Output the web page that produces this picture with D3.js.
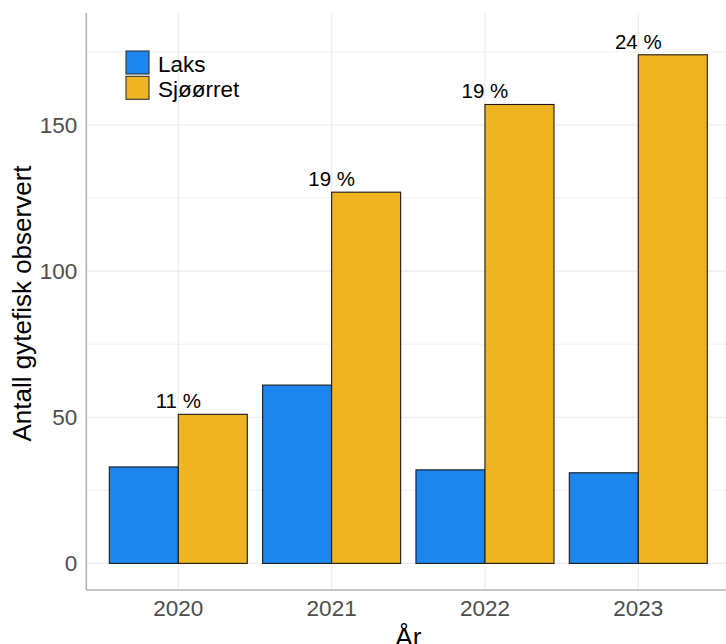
<!DOCTYPE html>
<html>
<head>
<meta charset="utf-8">
<script src="https://cdn.jsdelivr.net/npm/d3@7"></script>
<style>
  html, body { margin: 0; padding: 0; background: #fff; }
  svg { display: block; font-family: "Liberation Sans", Arial, sans-serif; }
</style>
</head>
<body>
<svg id="chart" width="726" height="644"></svg>
<script>
// Observed spawning fish per year
const years = ["2020", "2021", "2022", "2023"];
const laks = [33, 61, 32, 31];
const sjoorret = [51, 127, 157, 174];
const shareLabels = ["11 %", "19 %", "19 %", "24 %"];
const yTicks = [0, 50, 100, 150];
const yMinorTicks = [25, 75, 125, 175];
const seriesNames = ["Laks", "Sjøørret"];
const seriesColors = ["#1C86EE", "#EEB422"];

const svg = d3.select("#chart");
const W = 726, H = 644;
const panel = { left: 86.3, right: 730.3, top: 13, bottom: 590 };

const x = d3.scaleBand()
  .domain(years)
  .range([panel.left, panel.right])
  .paddingInner(0)
  .paddingOuter(0.1);

const y = d3.scaleLinear()
  .domain([-9.1, 188.3])
  .range([panel.bottom, panel.top]);

const barW = x.step() * 0.45;
const cx = d => x(d) + x.bandwidth() / 2;

const g = svg.append("g");

// grid lines
g.selectAll("line.minor").data(yMinorTicks).join("line")
  .attr("x1", panel.left).attr("x2", W)
  .attr("y1", d => y(d)).attr("y2", d => y(d))
  .attr("stroke", "#F0F0F0").attr("stroke-width", 1);
g.selectAll("line.major").data(yTicks).join("line")
  .attr("x1", panel.left).attr("x2", W)
  .attr("y1", d => y(d)).attr("y2", d => y(d))
  .attr("stroke", "#EBEBEB").attr("stroke-width", 1.1);
g.selectAll("line.vgrid").data(years).join("line")
  .attr("x1", d => cx(d)).attr("x2", d => cx(d))
  .attr("y1", panel.top).attr("y2", panel.bottom)
  .attr("stroke", "#EBEBEB").attr("stroke-width", 1.1);

// bars
const rows = years.map((yr, i) => ({ yr, vals: [laks[i], sjoorret[i]] }));
rows.forEach(r => {
  r.vals.forEach((v, j) => {
    g.append("rect")
      .attr("x", cx(r.yr) - barW + j * barW)
      .attr("y", y(v))
      .attr("width", barW)
      .attr("height", y(0) - y(v))
      .attr("fill", seriesColors[j])
      .attr("stroke", "#1a1a1a")
      .attr("stroke-width", 1.1);
  });
});

// share labels above the sea trout bars
g.selectAll("text.share").data(years).join("text")
  .attr("x", d => cx(d))
  .attr("y", (d, i) => y(sjoorret[i]) - 6)
  .attr("text-anchor", "middle")
  .attr("font-size", "20.5px")
  .attr("fill", "#000")
  .text((d, i) => shareLabels[i]);

// axes
const yAxis = d3.axisLeft(y).tickValues(yTicks).tickSize(0).tickPadding(9);
const yg = svg.append("g").attr("transform", `translate(${panel.left},0)`).call(yAxis);
yg.select(".domain").remove();
yg.selectAll("text").attr("font-size", "22.5px").attr("fill", "#4D4D4D")
  .attr("font-family", "Liberation Sans, Arial, sans-serif");

const xAxis = d3.axisBottom(x).tickSize(0).tickPadding(10);
const xg = svg.append("g").attr("transform", `translate(0,${panel.bottom})`).call(xAxis);
xg.select(".domain").remove();
xg.selectAll("text").attr("font-size", "22.5px").attr("fill", "#4D4D4D")
  .attr("font-family", "Liberation Sans, Arial, sans-serif");

svg.append("line")
  .attr("x1", panel.left).attr("x2", panel.left)
  .attr("y1", panel.top).attr("y2", panel.bottom)
  .attr("stroke", "#B3B3B3").attr("stroke-width", 1.6);
svg.append("line")
  .attr("x1", panel.left).attr("x2", W)
  .attr("y1", panel.bottom).attr("y2", panel.bottom)
  .attr("stroke", "#B3B3B3").attr("stroke-width", 1.6);

// axis titles
svg.append("text")
  .attr("transform", `translate(31,${(panel.top + panel.bottom) / 2 + 2}) rotate(-90)`)
  .attr("text-anchor", "middle")
  .attr("font-size", "26px")
  .attr("fill", "#000")
  .text("Antall gytefisk observert");
svg.append("text")
  .attr("x", (panel.left + panel.right) / 2)
  .attr("y", 646)
  .attr("text-anchor", "middle")
  .attr("font-size", "26px")
  .attr("fill", "#000")
  .text("År");

// legend
const legend = svg.append("g").attr("transform", "translate(126,51)");
seriesNames.forEach((name, i) => {
  const row = legend.append("g").attr("transform", `translate(0,${i * 25.3})`);
  row.append("rect")
    .attr("x", 0).attr("y", 0).attr("width", 23).attr("height", 23)
    .attr("fill", seriesColors[i])
    .attr("stroke", "#333").attr("stroke-width", 1.1);
  row.append("text")
    .attr("x", 32).attr("y", 21)
    .attr("font-size", "22.5px")
    .attr("fill", "#000")
    .text(name);
});
</script>
</body>
</html>
